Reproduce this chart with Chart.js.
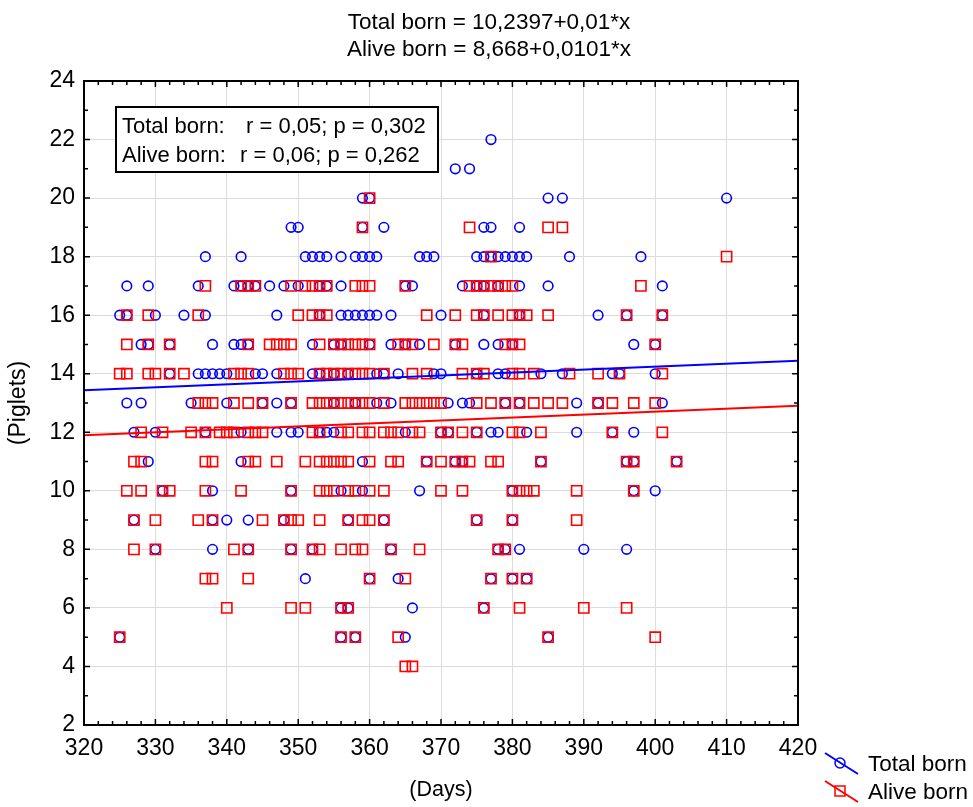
<!DOCTYPE html>
<html>
<head>
<meta charset="utf-8">
<script src="https://cdn.jsdelivr.net/npm/chart.js@4.4.1/dist/chart.umd.min.js"></script>
<style>
  html, body { margin: 0; padding: 0; background: #fff; }
</style>
</head>
<body>
<canvas id="chart" width="973" height="807"></canvas>
<script>
const pigletRows = [22, 21, 20, 19, 18, 17, 16, 15, 14, 13, 12, 11, 10, 9, 8, 7, 6, 5, 4];

const totalBornDays = [
    [377],
    [372, 374],
    [359, 360, 385, 387, 410],
    [349, 350, 359, 362, 376, 377, 381],
    [337, 342, 351, 352, 353, 354, 356, 358, 359, 360, 361, 367, 368, 369, 375, 376, 377, 378, 379, 380, 381, 382, 388, 398],
    [326, 329, 336, 341, 342, 343, 344, 346, 348, 350, 353, 354, 356, 365, 366, 373, 375, 376, 378, 381, 385, 401],
    [325, 326, 330, 334, 337, 347, 353, 356, 357, 358, 359, 360, 361, 363, 370, 376, 381, 392, 396, 401],
    [328, 329, 332, 338, 341, 342, 343, 352, 355, 356, 360, 363, 365, 367, 372, 376, 378, 380, 397, 400],
    [332, 336, 337, 338, 339, 340, 344, 345, 347, 352, 353, 355, 357, 361, 362, 364, 369, 370, 375, 378, 379, 384, 387, 394, 395, 400],
    [326, 328, 335, 340, 345, 347, 349, 355, 358, 361, 363, 371, 373, 374, 379, 381, 389, 392, 401],
    [327, 330, 337, 342, 347, 349, 350, 353, 354, 355, 365, 370, 371, 375, 377, 378, 382, 389, 394, 397],
    [329, 342, 359, 368, 372, 373, 384, 396, 397, 403],
    [331, 338, 349, 356, 359, 367, 380, 397, 400],
    [327, 338, 340, 343, 348, 357, 362, 375, 380],
    [330, 338, 343, 349, 352, 363, 378, 379, 381, 390, 396],
    [351, 360, 364, 377, 380, 382],
    [356, 357, 366, 376],
    [325, 356, 358, 365, 385],
    []
];

const aliveBornDays = [
    [],
    [],
    [360],
    [359, 374, 385, 387],
    [377, 410],
    [337, 342, 343, 344, 349, 351, 352, 353, 354, 358, 359, 360, 365, 374, 375, 376, 377, 378, 379, 380, 398],
    [326, 329, 336, 350, 352, 353, 354, 368, 372, 375, 376, 378, 380, 381, 382, 385, 396, 401],
    [326, 329, 332, 343, 346, 347, 348, 349, 353, 355, 356, 357, 358, 359, 360, 364, 365, 366, 369, 372, 373, 379, 380, 381, 400],
    [325, 326, 329, 330, 332, 334, 341, 342, 343, 348, 349, 350, 353, 354, 355, 356, 357, 358, 359, 360, 362, 366, 368, 373, 375, 376, 380, 381, 383, 388, 392, 395, 401],
    [336, 337, 338, 341, 343, 345, 349, 352, 353, 354, 355, 356, 357, 358, 359, 360, 362, 365, 366, 367, 368, 369, 370, 375, 377, 379, 381, 383, 385, 387, 392, 394, 397, 400],
    [328, 331, 335, 337, 339, 340, 341, 343, 344, 345, 352, 353, 356, 357, 359, 360, 362, 363, 364, 366, 367, 370, 371, 373, 375, 380, 381, 384, 394, 401],
    [327, 328, 337, 338, 343, 344, 347, 351, 353, 354, 355, 356, 357, 360, 363, 364, 368, 370, 372, 373, 374, 377, 378, 384, 396, 397, 403],
    [326, 328, 331, 332, 337, 342, 349, 353, 354, 355, 357, 358, 360, 362, 370, 373, 380, 381, 382, 383, 389, 397],
    [327, 330, 336, 338, 345, 348, 349, 350, 353, 357, 359, 360, 362, 375, 380, 389],
    [327, 330, 341, 343, 349, 352, 353, 356, 358, 359, 363, 367, 378, 379],
    [337, 338, 343, 360, 365, 377, 380, 382],
    [340, 349, 351, 356, 357, 376, 381, 390, 396],
    [325, 356, 358, 364, 385, 400],
    [365, 366]
];

// regression lines from the chart title
const totalFit = { a: 10.2397, b: 0.01 };
const aliveFit = { a: 8.668, b: 0.0101 };
const fitRange = [320, 420];

const titleLines = ['Total born = 10,2397+0,01*x', 'Alive born = 8,668+0,0101*x'];
const statsLines = [['Total born:', 'r = 0,05; p = 0,302'], ['Alive born:', 'r = 0,06; p = 0,262']];

const FONT = "'Liberation Sans', Arial, sans-serif";
const BLUE = '#0000ff';
const RED = '#ff0000';

function toPoints(rows) {
    const pts = [];
    rows.forEach((days, i) => {
        days.forEach(d => pts.push({ x: d, y: pigletRows[i] }));
    });
    return pts;
}

function fitLine(fit) {
    return fitRange.map(x => ({ x: x, y: fit.a + fit.b * x }));
}

const framePlugin = {
    id: 'frame',
    afterDraw(chart) {
        const ctx = chart.ctx;
        const area = chart.chartArea;
        const xs = chart.scales.x;
        const ys = chart.scales.y;

        ctx.save();
        // tick marks, pointing inward
        ctx.strokeStyle = '#000';
        ctx.lineWidth = 1.5;
        ctx.beginPath();
        for (let v = 320; v <= 420; v += 2) {
            const px = xs.getPixelForValue(v);
            const len = v % 10 === 0 ? 6 : 4;
            ctx.moveTo(px, area.bottom); ctx.lineTo(px, area.bottom - len);
            ctx.moveTo(px, area.top); ctx.lineTo(px, area.top + len);
        }
        for (let v = 2; v <= 24; v += 1) {
            const py = ys.getPixelForValue(v);
            const len = v % 2 === 0 ? 6 : 4;
            ctx.moveTo(area.left, py); ctx.lineTo(area.left + len, py);
            ctx.moveTo(area.right, py); ctx.lineTo(area.right - len, py);
        }
        ctx.stroke();

        ctx.lineWidth = 2;
        ctx.strokeRect(area.left, area.top, area.right - area.left, area.bottom - area.top);

        // title
        ctx.fillStyle = '#000';
        ctx.font = '22.5px ' + FONT;
        ctx.textAlign = 'center';
        ctx.textBaseline = 'alphabetic';
        ctx.fillText(titleLines[0], 489, 29);
        ctx.fillText(titleLines[1], 489, 56);

        // stats box
        ctx.fillStyle = '#fff';
        ctx.fillRect(116, 107, 322, 65);
        ctx.strokeRect(116, 107, 322, 65);
        ctx.fillStyle = '#000';
        ctx.font = '22px ' + FONT;
        ctx.textAlign = 'left';
        ctx.fillText(statsLines[0][0], 122, 133);
        ctx.fillText(statsLines[0][1], 246, 133);
        ctx.fillText(statsLines[1][0], 122, 162);
        ctx.fillText(statsLines[1][1], 240, 162);

        // legend
        const items = [
            { label: chart.data.datasets[0].label, color: BLUE, style: 'circle', y: 763 },
            { label: chart.data.datasets[1].label, color: RED, style: 'rect', y: 791 }
        ];
        items.forEach(it => {
            ctx.strokeStyle = it.color;
            ctx.lineWidth = 2;
            ctx.beginPath();
            ctx.moveTo(825, it.y - 10);
            ctx.lineTo(858, it.y + 11);
            ctx.stroke();
            ctx.lineWidth = 1.5;
            ctx.beginPath();
            if (it.style === 'circle') {
                ctx.arc(840, it.y, 5, 0, Math.PI * 2);
            } else {
                ctx.rect(835, it.y - 5, 10, 10);
            }
            ctx.stroke();
            ctx.fillStyle = '#000';
            ctx.font = '22.5px ' + FONT;
            ctx.fillText(it.label, 868, it.y + 8);
        });
        ctx.restore();
    }
};

new Chart(document.getElementById('chart'), {
    type: 'scatter',
    data: {
        datasets: [
            {
                label: 'Total born',
                data: toPoints(totalBornDays),
                pointStyle: 'circle',
                pointRadius: 4.8,
                pointBorderWidth: 1.6,
                pointBorderColor: BLUE,
                pointBackgroundColor: 'rgba(0,0,0,0)',
                order: 3
            },
            {
                label: 'Alive born',
                data: toPoints(aliveBornDays),
                pointStyle: 'rect',
                pointRadius: 7.2,
                pointBorderWidth: 1.6,
                pointBorderColor: RED,
                pointBackgroundColor: 'rgba(0,0,0,0)',
                order: 2
            },
            {
                type: 'line',
                label: 'Total fit',
                data: fitLine(totalFit),
                borderColor: BLUE,
                borderWidth: 2,
                pointRadius: 0,
                order: 1
            },
            {
                type: 'line',
                label: 'Alive fit',
                data: fitLine(aliveFit),
                borderColor: RED,
                borderWidth: 2,
                pointRadius: 0,
                order: 0
            }
        ]
    },
    options: {
        responsive: false,
        animation: false,
        layout: { padding: { top: 81, right: 175, left: 0, bottom: 0 } },
        plugins: {
            legend: { display: false },
            tooltip: { enabled: false }
        },
        scales: {
            x: {
                type: 'linear',
                min: 320,
                max: 420,
                ticks: { stepSize: 10, color: '#000', font: { family: FONT, size: 23 }, padding: 10 },
                grid: { color: '#dcdcdc', lineWidth: 1, drawTicks: false },
                border: { display: false },
                title: { display: true, text: '(Days)', color: '#000', font: { family: FONT, size: 21.5 }, padding: { top: 0, bottom: 4 } },
                afterFit(scale) { scale.height = 82; }
            },
            y: {
                type: 'linear',
                min: 2,
                max: 24,
                ticks: { stepSize: 2, color: '#000', font: { family: FONT, size: 23 }, padding: 9 },
                grid: { color: '#dcdcdc', lineWidth: 1, drawTicks: false },
                border: { display: false },
                title: { display: true, text: '(Piglets)', color: '#000', font: { family: FONT, size: 23 }, padding: { top: 5, bottom: 0 } },
                afterFit(scale) { scale.width = 84; }
            }
        }
    },
    plugins: [framePlugin]
});
</script>
</body>
</html>
